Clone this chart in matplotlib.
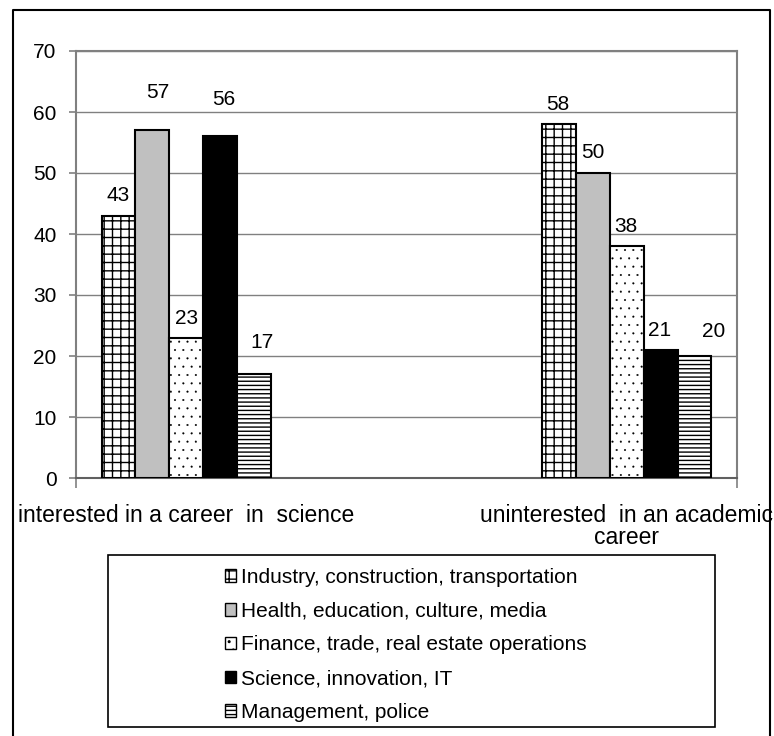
import matplotlib
matplotlib.use("Agg")
import matplotlib.pyplot as plt
from matplotlib.patches import Rectangle, Patch
from matplotlib.lines import Line2D

plt.rcParams['font.family'] = ['Liberation Sans', 'DejaVu Sans']
plt.rcParams['hatch.linewidth'] = 1.0
plt.rcParams['hatch.color'] = 'black'

categories = ["interested in a career  in  science",
              "uninterested  in an academic\ncareer"]
series_names = ["Industry, construction, transportation",
                "Health, education, culture, media",
                "Finance, trade, real estate operations",
                "Science, innovation, IT",
                "Management, police"]
values = [
    [43, 58],
    [57, 50],
    [23, 38],
    [56, 21],
    [17, 20],
]
y_ticks = [0, 10, 20, 30, 40, 50, 60, 70]

# styles
fills = ['white', '#C0C0C0', 'white', 'black', 'white']
hatches = ['++', None, '..', None, '----']
hatch_lws = [1.0, 1.0, 0.25, 1.0, 1.0]
# label offsets (pixels) relative to bar top centre: (dx, dy) per series per group
label_offsets = [
    [(0, 20), (-1, 20)],
    [(5, 38), (0, 20)],
    [(0, 19), (-1, 20)],
    [(4, 37), (-1, 19)],
    [(8, 32), (19, 25)],
]

W, H = 774, 736
fig = plt.figure(figsize=(W / 100, H / 100), dpi=100)
ax = fig.add_axes([76 / W, 1 - 478 / H, (737 - 76) / W, (478 - 51) / H])

has_hlw = hasattr(Patch, 'set_hatch_linewidth')

group_centers = [1 / 3, 5 / 3]
bar_w = 0.1023
n = len(series_names)
for i in range(n):
    xs = [gc + (i - (n - 1) / 2) * bar_w for gc in group_centers]
    bars = ax.bar(xs, values[i], width=bar_w, color=fills[i], hatch=hatches[i],
                  edgecolor='black', linewidth=1.5, zorder=3, label=series_names[i])
    if has_hlw:
        for b in bars:
            b.set_hatch_linewidth(hatch_lws[i])
    for j, (x, v) in enumerate(zip(xs, values[i])):
        dx, dy = label_offsets[i][j]
        ax.annotate(str(v), xy=(x, v), xytext=(dx, dy), textcoords='offset pixels',
                    ha='center', va='center', fontsize=15, zorder=4)

ax.set_xlim(0, 2)
ax.set_ylim(0, 70)
ax.set_yticks(y_ticks)
ax.yaxis.grid(True, color='#808080', linewidth=1.0, zorder=0)
ax.set_axisbelow(True)
ax.tick_params(axis='y', direction='out', length=5, width=1.2, color='#808080',
               labelsize=15, pad=9)
ax.set_xticks([0, 2])
ax.set_xticklabels(['', ''])
ax.tick_params(axis='x', which='major', direction='out', length=7, width=1.2,
               color='#808080')
ax.set_xticks(group_centers, minor=True)
ax.set_xticklabels(categories, minor=True, fontsize=16.5, linespacing=0.95)
ax.tick_params(axis='x', which='minor', length=0, pad=19)
for s in ax.spines.values():
    s.set_color('#808080')
    s.set_linewidth(1.5)
ax.spines['bottom'].set_color('#606060')

# legend with separate frame
handles = []
for i in range(n):
    p = Patch(facecolor=fills[i], hatch=hatches[i], edgecolor='black', linewidth=1.0)
    if has_hlw:
        p.set_hatch_linewidth(hatch_lws[i])
    handles.append(p)
lx0, lx1, ly0, ly1 = 108 / W, 715 / W, 1 - 727 / H, 1 - 555 / H
fig.patches.append(Rectangle((lx0, ly0), lx1 - lx0, ly1 - ly0, transform=fig.transFigure,
                             facecolor='white', edgecolor='black', linewidth=1.2))
leg = fig.legend(handles, series_names, loc='center',
                 bbox_to_anchor=((lx0 + lx1) / 2 - 6 / W, (ly0 + ly1) / 2 - 4 / H),
                 frameon=False, fontsize=15, handlelength=0.55, handleheight=0.55,
                 handletextpad=0.2, labelspacing=0.71)

# outer chart border
bx0, bx1, by1 = 13 / W, 770 / W, 1 - 10 / H
fig.add_artist(Line2D([bx0, bx0, bx1, bx1], [0, by1, by1, 0], transform=fig.transFigure,
                      color='black', linewidth=1.5, zorder=10))

fig.savefig('out.png', dpi=100)
